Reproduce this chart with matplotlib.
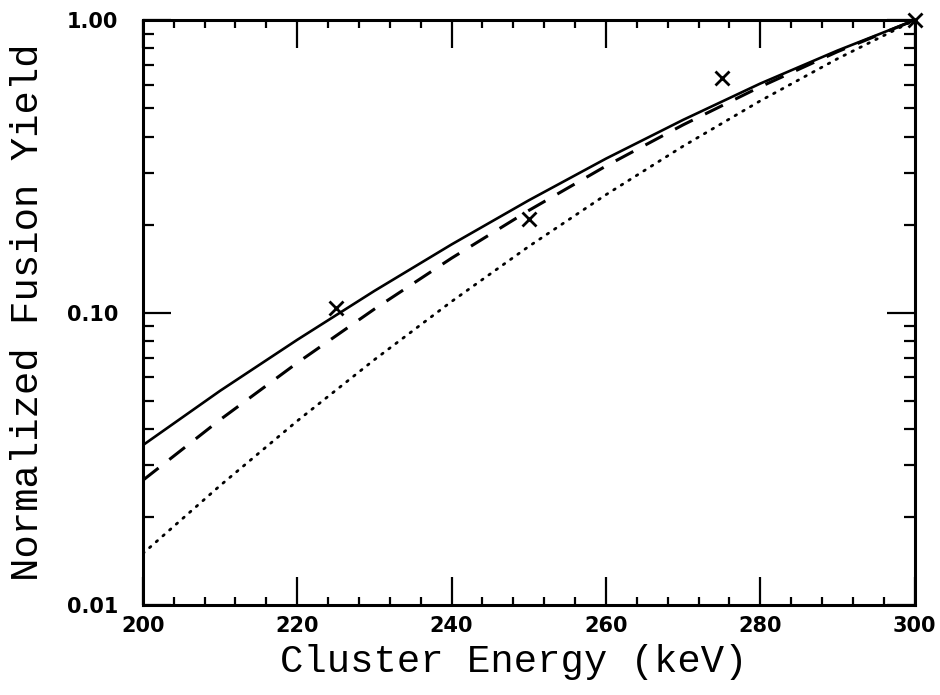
import matplotlib
matplotlib.use('Agg')
import matplotlib.pyplot as plt
import numpy as np
from matplotlib.ticker import FixedLocator, LogLocator, NullFormatter

energy = [200, 210, 220, 230, 240, 250, 260, 270, 280, 290, 300]
yield_solid = [0.0352, 0.0540, 0.0807, 0.1186, 0.171, 0.242, 0.336, 0.456, 0.607, 0.787, 1.0]
yield_dashed = [0.0267, 0.0430, 0.0673, 0.1028, 0.1535, 0.2234, 0.317, 0.4385, 0.5916, 0.780, 1.0]
yield_dotted = [0.0150, 0.0256, 0.0426, 0.0690, 0.1091, 0.1683, 0.2529, 0.3707, 0.5297, 0.738, 1.0]

meas_energy = [225, 250, 275, 300]
meas_yield = [0.104, 0.209, 0.634, 1.0]

xticks = [200, 220, 240, 260, 280, 300]
yticks = [0.01, 0.1, 1.0]
ytick_labels = ['0.01', '0.10', '1.00']

fig = plt.figure(figsize=(9.4, 6.95), dpi=100)
ax = fig.add_axes([0.152, 0.1295, 0.821, 0.8415])

ax.plot(energy, yield_solid, color='black', lw=1.9, ls='-')
ax.plot(energy, yield_dashed, color='black', lw=2.2, ls=(0, (6.5, 4.5)))
ax.plot(energy, yield_dotted, color='black', lw=2.0, ls=(0, (0.6, 2.6)),
        dash_capstyle='round')
ax.plot(meas_energy, meas_yield, ls='none', marker='x', ms=10, mew=2,
        color='black', clip_on=False)

ax.set_yscale('log')
ax.set_xlim(200, 300)
ax.set_ylim(0.01, 1.0)

ax.xaxis.set_major_locator(FixedLocator(xticks))
ax.xaxis.set_minor_locator(FixedLocator(np.arange(200, 301, 4)))
ax.yaxis.set_major_locator(FixedLocator(yticks))
ax.yaxis.set_minor_locator(LogLocator(base=10, subs=np.arange(2, 10)))
ax.yaxis.set_minor_formatter(NullFormatter())
ax.set_yticklabels(ytick_labels)

for lab in ax.get_xticklabels() + ax.get_yticklabels():
    lab.set_fontfamily('DejaVu Sans')
    lab.set_fontweight('bold')
    lab.set_fontsize(15)

ax.tick_params(which='both', direction='in', top=True, right=True, width=1.6)
ax.tick_params(which='major', length=20)
ax.tick_params(axis='x', which='minor', length=6)
ax.tick_params(axis='y', which='minor', length=8)
ax.tick_params(axis='x', which='major', pad=8)
ax.tick_params(axis='y', which='major', pad=18)

for sp in ax.spines.values():
    sp.set_linewidth(2.2)

label_font = {'family': 'Liberation Mono', 'size': 28}
ax.set_xlabel('Cluster Energy (keV)', fontdict=label_font, labelpad=6, x=0.48)
ax.set_ylabel('Normalized Fusion Yield', fontdict=label_font, labelpad=15)

fig.savefig('out.png', dpi=100)
